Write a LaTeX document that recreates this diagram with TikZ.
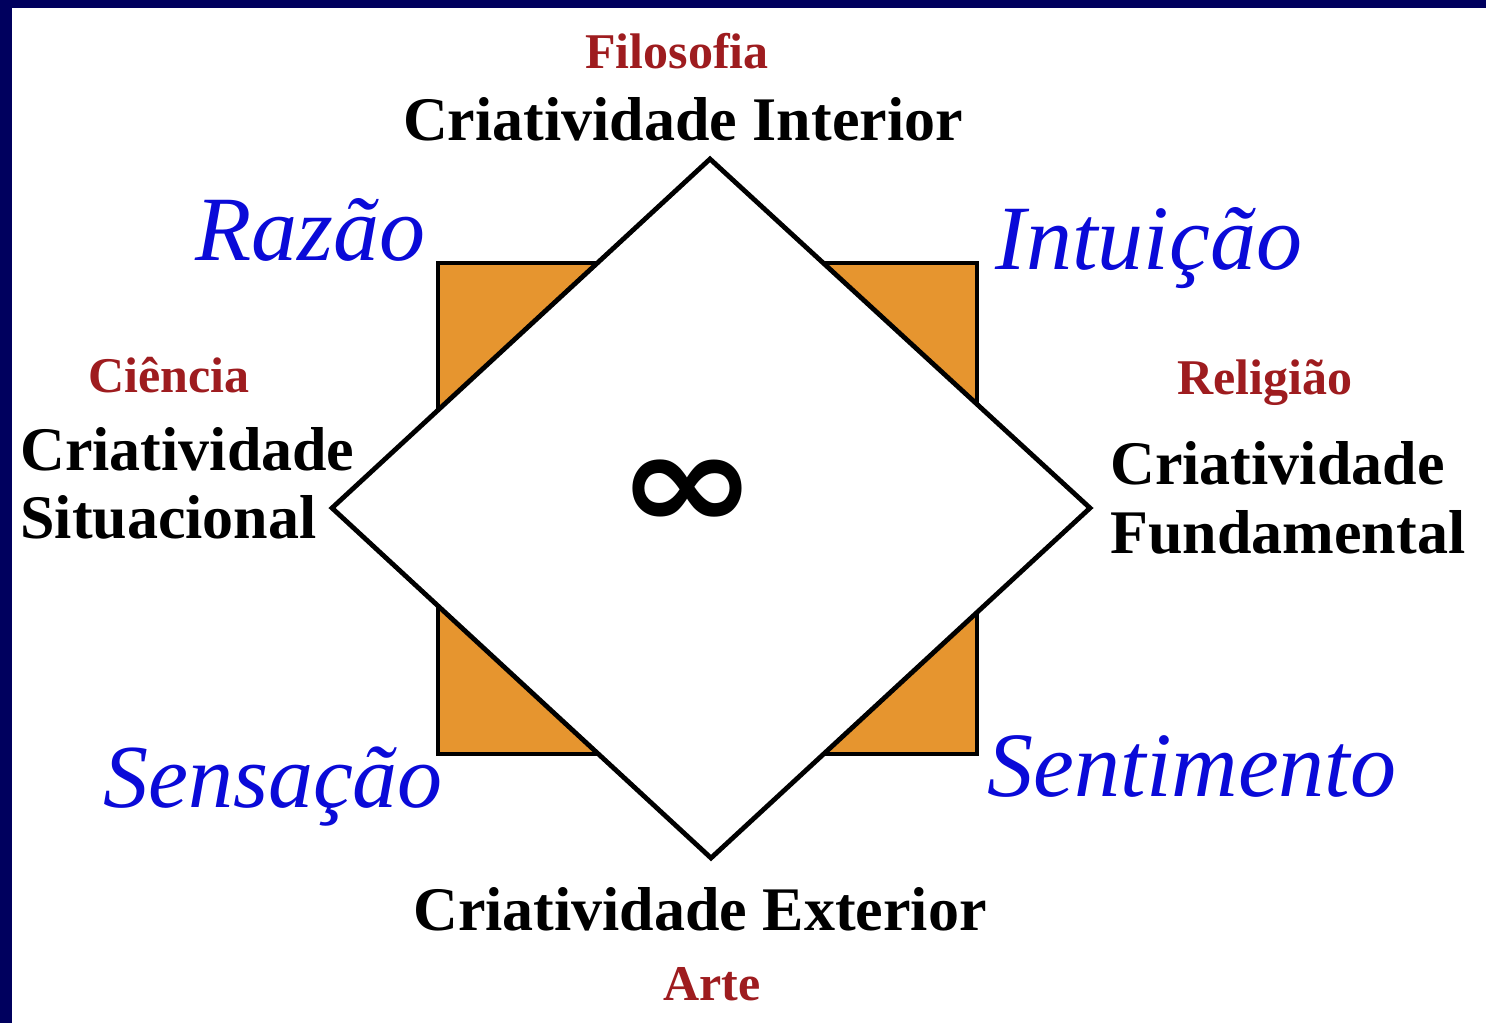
\documentclass[tikz,border=0pt]{standalone}
\usepackage{fontspec}
\setmainfont{Liberation Serif}
\newfontfamily\symfnt{DejaVu Sans}
\definecolor{navy}{HTML}{00005E}
\definecolor{bluetxt}{HTML}{0A0AD8}
\definecolor{redtxt}{HTML}{9E1C1F}
\definecolor{orangefill}{HTML}{E6952F}
\tikzset{
  redlbl/.style={inner sep=0pt,anchor=base,text=redtxt,font=\fontsize{25}{30}\selectfont\bfseries},
  blacklbl/.style={inner sep=0pt,text=black,font=\fontsize{31}{36}\selectfont\bfseries},
  bluelbl/.style={inner sep=0pt,anchor=base,text=bluetxt,font=\fontsize{46}{52}\selectfont\itshape},
  inflbl/.style={inner sep=0pt,anchor=center,text=black,font=\fontsize{84}{90}\selectfont\symfnt\bfseries},
  shapeline/.style={draw=black,line width=2.4pt,line join=miter}}
\begin{document}
\begin{tikzpicture}[x=0.5pt,y=-0.5pt]
\useasboundingbox (0,0) rectangle (1486,1023);
\fill[navy] (0,0) rectangle (1486,1023);
\fill[white] (12,8) rectangle (1486,1023);
% orange square
\draw[shapeline,fill=orangefill] (438,263) rectangle (977,754);
% diamond
\coordinate (dt) at (710,159);
\coordinate (dr) at (1090,508);
\coordinate (db) at (711,858);
\coordinate (dl) at (332,508);
\draw[shapeline,fill=white] (dt) -- (dr) -- (db) -- (dl) -- cycle;
\node[inflbl,yscale=0.82] (infsym) at (687,495) {∞};
% top
\node[redlbl] (filo) at (677,68) {Filosofia};
\node[blacklbl,anchor=base] (cint) at (683,140) {Criatividade Interior};
% bottom
\node[blacklbl,anchor=base] (cext) at (700,930) {Criatividade Exterior};
\node[redlbl] (arte) at (712,1000) {Arte};
% left
\node[redlbl] (cien) at (169,392) {Ciência};
\node[blacklbl,anchor=base west] (csit1) at (20,470) {Criatividade};
\node[blacklbl,anchor=base west] (csit2) at (20,538) {Situacional};
% right
\node[redlbl] (reli) at (1265,394) {Religião};
\node[blacklbl,anchor=base west] (cfun1) at (1110,484) {Criatividade};
\node[blacklbl,anchor=base west] (cfun2) at (1110,553) {Fundamental};
% blue corners
\node[bluelbl] (razao) at (310,260) {Razão};
\node[bluelbl] (intu) at (1149,269) {Intuição};
\node[bluelbl,font=\fontsize{45}{52}\selectfont\itshape] (sens) at (273,807) {Sensação};
\node[bluelbl] (sent) at (1192,796) {Sentimento};
\end{tikzpicture}
\end{document}
